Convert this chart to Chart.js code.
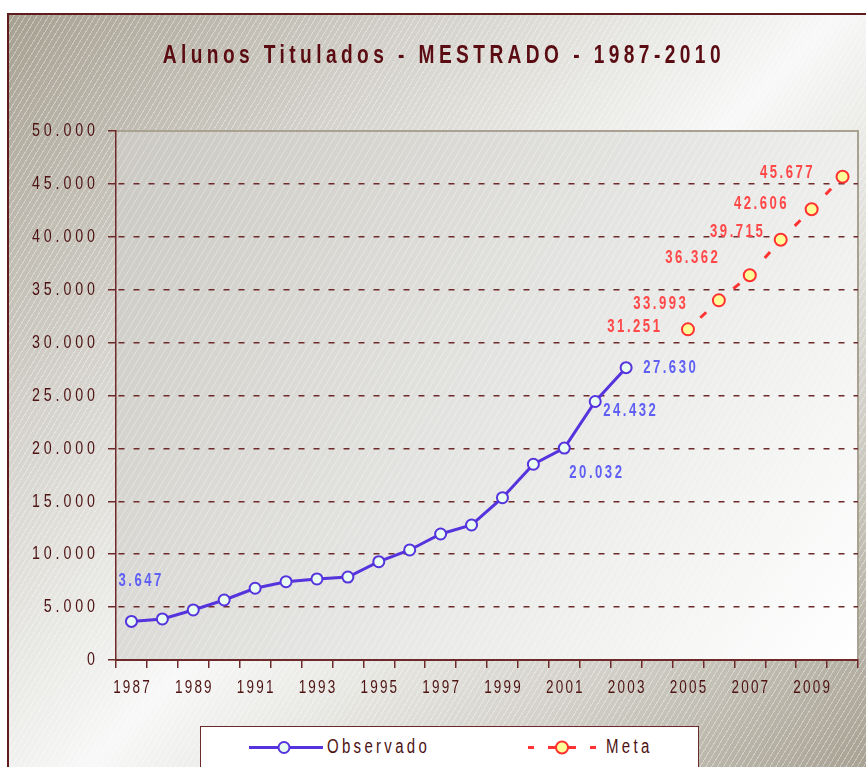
<!DOCTYPE html>
<html>
<head>
<meta charset="utf-8">
<script src="https://cdn.jsdelivr.net/npm/chart.js@4.4.1/dist/chart.umd.min.js"></script>
<style>
html, body { margin: 0; padding: 0; background: #fff; width: 866px; height: 767px; overflow: hidden; }
#frame {
    position: absolute; left: 7px; top: 13px; width: 880px; height: 780px;
    border-top: 2px solid #5e1c1c; border-left: 2px solid #5e1c1c;
    background:
        repeating-linear-gradient(121deg, rgba(255,255,255,0) 0 4px, rgba(255,255,255,.35) 4px 5px),
        linear-gradient(135deg, #a6a091 0%, #d3d1ca 25%, #f7f8f7 50%, #d2d0c8 75%, #a19b8b 100%);
}
#chart { position: absolute; left: 0; top: 0; }
#title {
    position: absolute; left: 0; width: 887px; top: 39.5px; text-align: center; line-height: 30px;
    font: bold 25.5px 'Liberation Sans', Arial, sans-serif; color: #5a0c12;
}
#title span { display: inline-block; letter-spacing: 5.9px; transform: scaleX(0.75); transform-origin: center; white-space: nowrap; }
#legend {
    position: absolute; left: 200px; top: 726px; width: 497px; height: 50px;
    background: #fff; border: 1.5px solid #6a2a2a;
    font: 20px 'Liberation Sans', Arial, sans-serif; color: #4d1212;
}
#legend svg { position: absolute; left: 0; top: 0; }
#legend span {
    position: absolute; top: 6.5px; line-height: 24px; letter-spacing: 4.4px;
    transform: scaleX(0.75); transform-origin: left; white-space: nowrap;
}
</style>
</head>
<body>
<div id="frame"></div>
<canvas id="chart" width="866" height="767"></canvas>
<div id="title"><span>Alunos Titulados - MESTRADO - 1987-2010</span></div>
<div id="legend">
    <svg width="497" height="50">
        <line x1="48" y1="20.5" x2="122" y2="20.5" stroke="#5533dd" stroke-width="3"/>
        <circle cx="83" cy="20.5" r="5.5" fill="#e8fcf0" stroke="#5533dd" stroke-width="2"/>
        <line x1="327" y1="20.5" x2="333" y2="20.5" stroke="#ff3333" stroke-width="3"/>
        <line x1="347" y1="20.5" x2="375" y2="20.5" stroke="#ff3333" stroke-width="3"/>
        <circle cx="361" cy="20.5" r="6" fill="#ffff99" stroke="#ff3030" stroke-width="2"/>
        <line x1="389" y1="20.5" x2="395" y2="20.5" stroke="#ff3333" stroke-width="3"/>
    </svg>
    <span style="left:126px">Observado</span>
    <span style="left:404.5px">Meta</span>
</div>

<script>
// DATA

const years = ['1987', '1988', '1989', '1990', '1991', '1992', '1993', '1994', '1995', '1996', '1997', '1998',
               '1999', '2000', '2001', '2002', '2003', '2004', '2005', '2006', '2007', '2008', '2009', '2010'];

const observado = [3647, 3880, 4730, 5670, 6780, 7400, 7660, 7840, 9290, 10400, 11910, 12760,
                   15340, 18500, 20032, 24432, 27630, null, null, null, null, null, null, null];

const meta = [null, null, null, null, null, null, null, null, null, null, null, null,
              null, null, null, null, null, null, 31251, 33993, 36362, 39715, 42606, 45677];

const xTickLabels = ['1987', '1989', '1991', '1993', '1995', '1997', '1999', '2001', '2003', '2005', '2007', '2009'];

const observadoLabeled = ['1987', '2001', '2002', '2003'];
const metaLabeled = ['2005', '2006', '2007', '2008', '2009', '2010'];


// STYLE

const FONT = "'Liberation Sans', Arial, sans-serif";
const NARROW = 0.75;          // horizontal squeeze, stands in for a narrow face
const MAROON = '#6e2a2a';
const TEXT = '#4d1212';

// label offsets from the point (dx, dy), per year
const labelOffsets = {
    '1987': [-13, -40], '2001': [5, 25], '2002': [8, 10], '2003': [17, 0],
    '2005': [-28, -2], '2006': [-33, 4], '2007': [-32, -17],
    '2008': [-18, -8], '2009': [-25, -5], '2010': [-30, -4]
};

const fmt = (v) => String(v).replace(/\B(?=(\d{3})+(?!\d))/g, '.');

// squeezed, letter-spaced text; x is the visible left / centre / right edge
const drawNarrow = (ctx, text, x, y, align, spacing) => {
    const ls = spacing / NARROW;
    ctx.save();
    ctx.translate(x, y);
    ctx.scale(NARROW, 1);
    ctx.letterSpacing = ls + 'px';
    ctx.textAlign = align;
    ctx.textBaseline = 'middle';
    const shift = align === 'right' ? ls : align === 'center' ? ls / 2 : 0;
    ctx.fillText(text, shift, 0);
    ctx.restore();
};


// PLUGINS

const plotBackground = {
    id: 'plotBackground',
    beforeDraw(chart) {
        const { ctx, chartArea: a } = chart;
        ctx.save();
        const g = ctx.createLinearGradient(a.left, a.top, a.right, a.bottom);
        g.addColorStop(0, '#cac8c1');
        g.addColorStop(0.5, '#e4e4e2');
        g.addColorStop(1, '#ffffff');
        ctx.fillStyle = g;
        ctx.fillRect(a.left, a.top, a.right - a.left, a.bottom - a.top);

        // faint diagonal hatching
        ctx.beginPath();
        ctx.rect(a.left, a.top, a.right - a.left, a.bottom - a.top);
        ctx.clip();
        ctx.strokeStyle = 'rgba(255,255,255,0.35)';
        ctx.lineWidth = 1;
        const h = a.bottom - a.top;
        ctx.beginPath();
        for (let k = -h; k < a.right - a.left; k += 7) {
            ctx.moveTo(a.left + k, a.bottom);
            ctx.lineTo(a.left + k + h * 0.6, a.top);
        }
        ctx.stroke();
        ctx.restore();

        // top / right edge of the plot
        ctx.save();
        ctx.strokeStyle = '#a9a293';
        ctx.lineWidth = 2;
        ctx.beginPath();
        ctx.moveTo(a.left, a.top);
        ctx.lineTo(a.right, a.top);
        ctx.lineTo(a.right, a.bottom);
        ctx.stroke();
        ctx.restore();
    }
};

const axisLabels = {
    id: 'axisLabels',
    afterDraw(chart) {
        const ctx = chart.ctx;
        const { x, y } = chart.scales;
        ctx.save();
        ctx.fillStyle = TEXT;

        ctx.font = `19px ${FONT}`;
        y.ticks.forEach((t, i) => {
            drawNarrow(ctx, fmt(t.value), y.right - 21, y.getPixelForTick(i), 'right', 3.9);
        });

        ctx.font = `18px ${FONT}`;
        x.ticks.forEach((t, i) => {
            const year = years[t.value];
            if (!xTickLabels.includes(year)) return;
            drawNarrow(ctx, year, x.getPixelForTick(i), x.top + 28.5, 'center', 2.2);
        });
        ctx.restore();
    }
};

const valueLabels = {
    id: 'valueLabels',
    afterDatasetsDraw(chart) {
        const ctx = chart.ctx;
        ctx.save();
        ctx.font = `bold 17.5px ${FONT}`;
        const sets = [
            { idx: 0, list: observadoLabeled, color: '#5f5ff5', align: 'left' },
            { idx: 1, list: metaLabeled, color: '#ff4848', align: 'right' }
        ];
        sets.forEach(s => {
            const pts = chart.getDatasetMeta(s.idx).data;
            const values = chart.data.datasets[s.idx].data;
            ctx.fillStyle = s.color;
            s.list.forEach(year => {
                const i = years.indexOf(year);
                const p = pts[i];
                const [dx, dy] = labelOffsets[year];
                drawNarrow(ctx, fmt(values[i]), p.x + dx, p.y + dy, s.align, 2.5);
            });
        });
        ctx.restore();
    }
};


// CHART

new Chart(document.getElementById('chart'), {
    type: 'line',
    data: {
        labels: years,
        datasets: [
            {
                label: 'Observado',
                data: observado,
                borderColor: '#5533dd',
                borderWidth: 3,
                pointRadius: 5.5,
                pointBorderWidth: 2,
                pointBackgroundColor: '#e8fcf0',
                pointBorderColor: '#5533dd',
                tension: 0
            },
            {
                label: 'Meta',
                data: meta,
                borderColor: '#ff3333',
                borderWidth: 3,
                borderDash: [8, 36],
                borderDashOffset: 27,
                pointRadius: 6,
                pointBorderWidth: 2,
                pointBackgroundColor: '#ffff99',
                pointBorderColor: '#ff3030',
                tension: 0
            }
        ]
    },
    options: {
        responsive: false,
        animation: false,
        layout: { padding: { top: 131, right: 5, left: 0, bottom: 0 } },
        plugins: {
            legend: { display: false },
            tooltip: { enabled: false }
        },
        scales: {
            x: {
                offset: true,
                afterFit: (s) => { s.height = 107; },
                grid: { offset: true, drawOnChartArea: false, color: MAROON, lineWidth: 1.5, tickLength: 8 },
                border: { color: MAROON, width: 2 },
                ticks: { display: false, autoSkip: false, maxRotation: 0, minRotation: 0 }
            },
            y: {
                min: 0,
                max: 50000,
                afterFit: (s) => { s.width = 116; },
                grid: {
                    color: (c) => c.tick && c.tick.value === 50000 ? 'rgba(0,0,0,0)' : MAROON,
                    tickColor: MAROON,
                    lineWidth: 1.5,
                    tickLength: 8
                },
                border: { color: MAROON, width: 1.5, dash: [6, 9], dashOffset: 13 },
                ticks: { display: false, stepSize: 5000 }
            }
        }
    },
    plugins: [plotBackground, axisLabels, valueLabels]
});
</script>
</body>
</html>
